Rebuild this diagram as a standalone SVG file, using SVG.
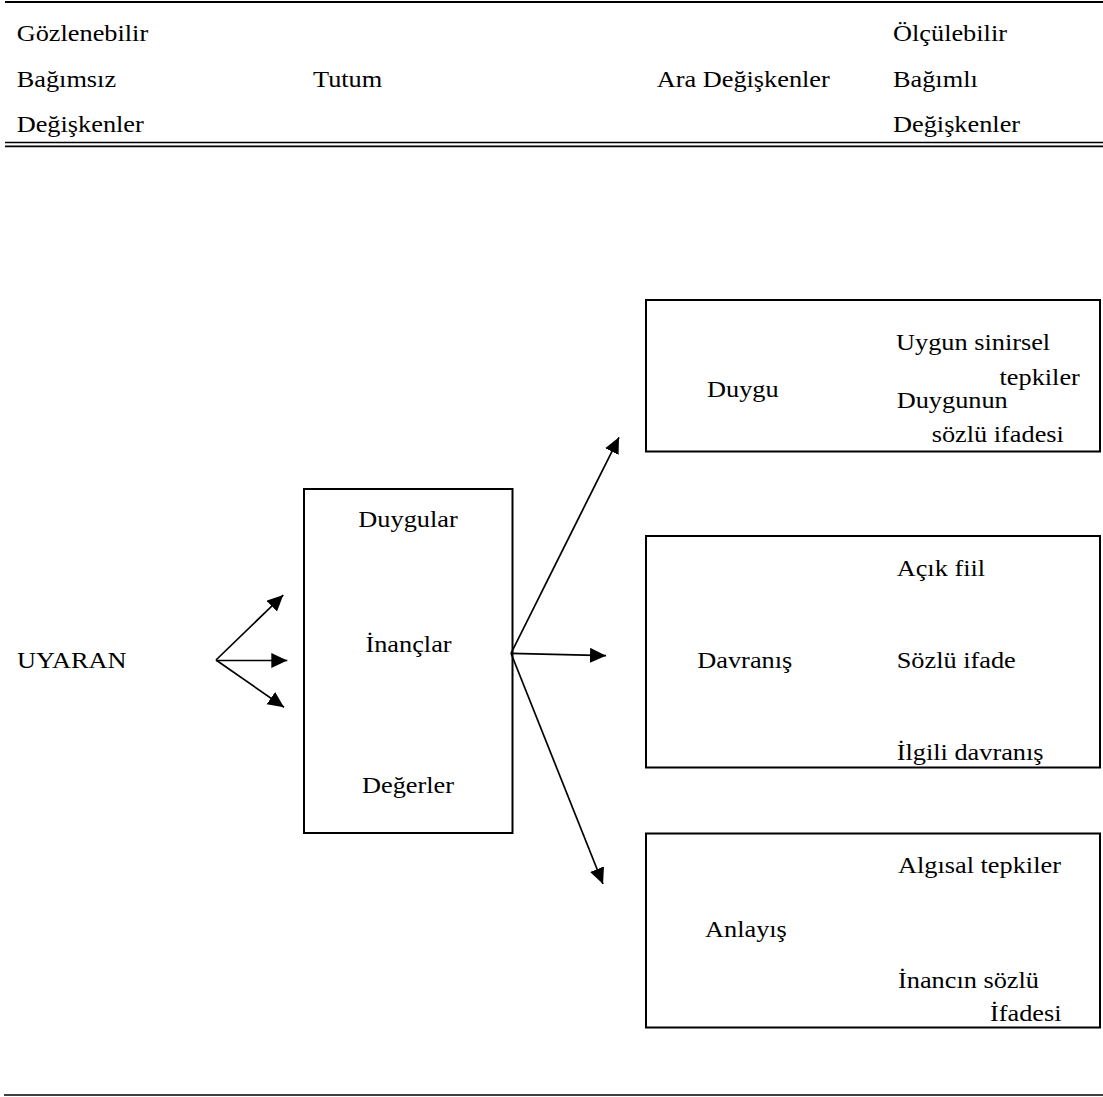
<svg xmlns="http://www.w3.org/2000/svg" width="1103" height="1097" viewBox="0 0 1103 1097">
<style>
text{font-family:"Liberation Serif","Times New Roman",serif;font-size:22.5px;fill:#000}
.box{fill:none;stroke:#000;stroke-width:2}
.rule{stroke:#000;fill:none}
.arr{stroke:#000;stroke-width:1.7;fill:none;marker-end:url(#ah)}
</style>
<defs>
<marker id="ah" markerUnits="userSpaceOnUse" markerWidth="17" markerHeight="16" refX="16" refY="7.5" orient="auto">
<path d="M0,0 L16,7.5 L0,15 z" fill="#000"/>
</marker>
</defs>
<rect width="1103" height="1097" fill="#fff"/>
<g id="header">
<line class="rule" x1="5" y1="2" x2="1103" y2="2" stroke-width="2"/>
<line class="rule" x1="5" y1="142.5" x2="1103" y2="142.5" stroke-width="1.7"/>
<line class="rule" x1="5" y1="146.3" x2="1103" y2="146.3" stroke-width="1.7"/>
<text transform="translate(16.7,41) scale(1.17,1)">Gözlenebilir</text>
<text transform="translate(16.7,87) scale(1.17,1)">Bağımsız</text>
<text transform="translate(16.7,132) scale(1.17,1)">Değişkenler</text>
<text transform="translate(313,87) scale(1.17,1)">Tutum</text>
<text transform="translate(656.7,87) scale(1.17,1)">Ara Değişkenler</text>
<text transform="translate(893,41) scale(1.17,1)">Ölçülebilir</text>
<text transform="translate(893,87) scale(1.17,1)">Bağımlı</text>
<text transform="translate(893,132) scale(1.17,1)">Değişkenler</text>
</g>
<g id="uyaran">
<text transform="translate(17,667.5) scale(1.17,1)">UYARAN</text>
</g>
<g id="tutum">
<rect class="box" x="304" y="489" width="208.5" height="344"/>
<text transform="translate(408,527) scale(1.17,1)" text-anchor="middle">Duygular</text>
<text transform="translate(408.5,651.7) scale(1.17,1)" text-anchor="middle">İnançlar</text>
<text transform="translate(408,793) scale(1.17,1)" text-anchor="middle">Değerler</text>
</g>
<g id="duygu">
<rect class="box" x="646" y="300" width="454" height="151.5"/>
<text transform="translate(896,350) scale(1.17,1)">Uygun sinirsel</text>
<text transform="translate(999.5,385) scale(1.17,1)">tepkiler</text>
<text transform="translate(707,397) scale(1.17,1)">Duygu</text>
<text transform="translate(896.7,408.3) scale(1.17,1)">Duygunun</text>
<text transform="translate(931.7,441.7) scale(1.17,1)">sözlü ifadesi</text>
</g>
<g id="davranis">
<rect class="box" x="646" y="536" width="454" height="231.5"/>
<text transform="translate(896.7,575.7) scale(1.17,1)">Açık fiil</text>
<text transform="translate(697.3,667.7) scale(1.17,1)">Davranış</text>
<text transform="translate(896.7,667.7) scale(1.17,1)">Sözlü ifade</text>
<text transform="translate(896.7,760) scale(1.17,1)">İlgili davranış</text>
</g>
<g id="anlayis">
<rect class="box" x="646" y="833.5" width="454" height="194"/>
<text transform="translate(898,873.3) scale(1.17,1)">Algısal tepkiler</text>
<text transform="translate(705,936.7) scale(1.17,1)">Anlayış</text>
<text transform="translate(898,988.3) scale(1.17,1)">İnancın sözlü</text>
<text transform="translate(990,1021) scale(1.17,1)">İfadesi</text>
</g>
<g id="connectors">
<line class="arr" x1="216" y1="660" x2="283.3" y2="595"/>
<line class="arr" x1="216" y1="660.5" x2="287.3" y2="660.5"/>
<line class="arr" x1="216" y1="660" x2="284" y2="707.3"/>
<line class="arr" x1="511" y1="653.3" x2="619" y2="437.3"/>
<line class="arr" x1="511" y1="653.3" x2="606" y2="655.7"/>
<line class="arr" x1="511" y1="653.3" x2="603" y2="884"/>
</g>
<g id="footer">
<line class="rule" x1="4" y1="1095" x2="1103" y2="1095" stroke-width="1.7"/>
</g>
</svg>
